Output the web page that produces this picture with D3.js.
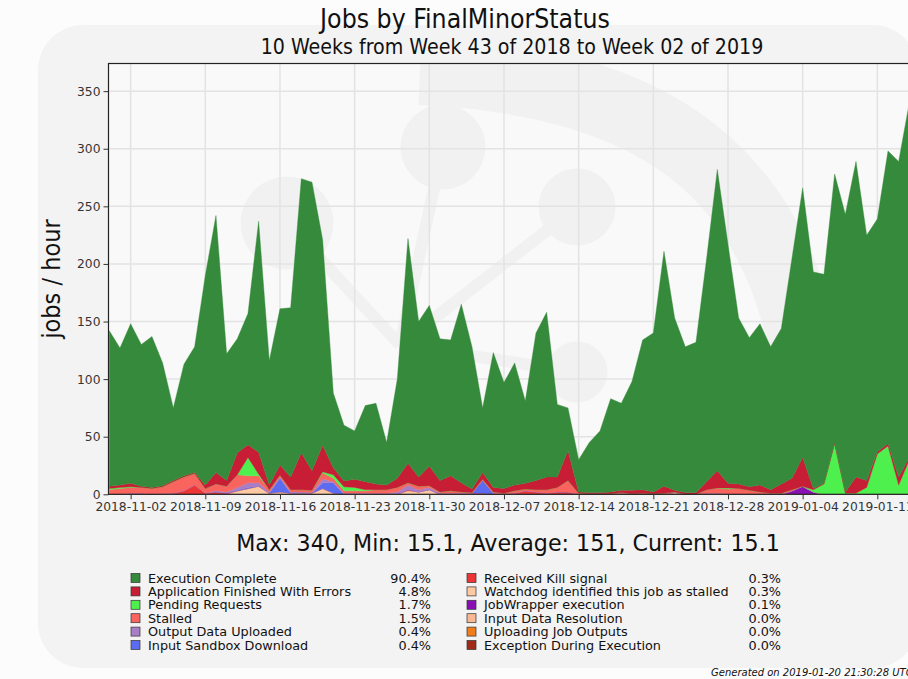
<!DOCTYPE html>
<html>
<head>
<meta charset="utf-8">
<script src="https://cdn.jsdelivr.net/npm/d3@7"></script>
<style>
  body { margin: 0; background: #fff; }
  svg { display: block; font-family: "DejaVu Sans", sans-serif; }
</style>
</head>
<body>
<svg id="chart" width="908" height="679"></svg>
<script>
// daily values, 2018-10-31 .. 2019-01-20 (jobs / hour)
var execComplete = [135,119,138.5,123,131,106.5,63,97,109,182,
  223,110,99,114,200.5,108,135.5,147,238,250.5,
  178.5,65,48.5,42,66,70,37,86,195,135,
  139.5,123,118,155,123.5,56,117,92,106,71.5,
  128,143,63,37,28,43.5,53.5,81,75.5,94.5,
  130,138,204,149.5,126.5,130.5,194,261.5,207.5,144,
  129.5,140,124,135,191,234,188,181.5,233,241,
  274,213,202,254,274,308,302,273,246,227,
  188,14.1];
var appErrors = [2,2,3,1,1,1,1,1,1,3,
  10,5,19,11,19,4,9,11,32,17,
  23,6,5,7,7,5,4,8,17,8,
  17,10,13,8,3,6,4,4,5,5,
  8,11,9,26,1,1,1,1.5,2,3,
  3,1.5,6,1.5,1.5,1.5,7,15,4,4,
  3,6,3,8,10,25,1,0.5,1,1,
  14,6,2,2,7,2,3,5,4,3,
  2,1];
var pendingRequests = [1,1,0.5,0,0,0,0,0,0,0,
  0,0,0,16,1.5,0,0,0,0,0,
  1,3,3.5,3,1,0,0,0,0,0,
  0,0,0,0,0,0,0,0,0,0,
  0,0,0,0,0,0,0,0,0,0,
  0,0,0,0,0,0,0,0,1,0,
  0,0,0,0,0,0,2,9,44,1,
  1,6,35,42,8,30,5,2,0,0,
  0,0];
var stalled = [4,5,5,5,5,6,10,12,10,4,
  6,5,11,6,6,2,1.5,2,2,2,
  5,3,2,2,2,3,3,4,2,3,
  1.5,1,2,1,0.5,1,1,1,2,1.5,
  2,3,4,10,1,0.5,0.5,0.5,0.5,0.5,
  1,0.5,1,0.5,0,0,3,4.5,4.5,5,
  3.5,2,1,1,1,0,0,0,0,0,
  0,0,0,0,0,0,0,0,0,0,
  0,0];
var outputData = [0,0,0,0,0,0,0,0,0,0,
  1,1,2.5,4,3,1,1,1,1,0.5,
  3.5,1,1,1,1,1,1,2,4,2,
  2,1,1,0.5,0,0,0,0,0,0,
  0,0,0,0,0,0,0,0,0,0,
  0,0,0,0,0,0,0,0,0,0,
  0,0,0,0,0,0,0,0,0,0,
  0,0,0,0,0,0,0,0,0,0,
  0,0];
var inputSandbox = [0,0,0,0,0,0,0,0,0,0,
  0,0,0.5,1,0,0,12,0,0,0,
  5,9,0,0,0,0,0,0,0,0,
  0,0,0,0,0,11,1,0,0,0,
  0,0,0,0,0,0,0,0,0,0,
  0,0,0,0,0,0,0,0,0,0,
  0,0,0,0,0,0,0,0,0,0,
  0,0,0,0,0,0,0,0,0,0,
  0,0];
var killSignal = [0,0,1,1,0,0.5,1,3,8,1,
  2,1,0,0,0,0,0,0,0,0,
  0,0,0,0,0,0,0,0,1,0,
  0,0,0,0,0,0,0,0,1,3,
  2,1,2,2,0,0,0,0,0,0,
  0,0,0,0,0,0,0,0,0,0,
  0,0,0,0,0,0,0,0,0,0,
  0,0,0,0,0,0,0,0,0,0,
  0,0];
var watchdog = [0,0,0,0,0,0,0,0,0,0,
  0,0,3,5,7,1,2,1,1,1,
  5,1,0,0,0,0,0,0,3,2,
  4,0,0,0,0,0,0,0,0,0,
  0,0,0,0,0,0,0,0,0,0,
  0,0,0,1.5,0,0,1,1,0,0,
  0,0,0,0,0,0,0,0,0,0,
  0,0,0,0,0,0,0,0,0,0,
  0,0];
var jobWrapper = [0,0,0,0,0,0,0,0,0,0,
  0,0,0,0,0,0,0,0,0,0,
  0,0,0,0,0,0,0,0,0,0,
  0,0,0,0.5,1,1,0,0,0,0,
  0,0,0,0,0,0,0,0,1,0,
  0,0,0,0,0,0,0,0,0,0,
  0,0,0,0,3,7,2,0,0,0,
  0,0,0,0,0,0,0,0,0,0,
  0,0];
var inputDataRes = new Array(82).fill(0);
var uploadingOutputs = new Array(82).fill(0);
var exceptionExec = new Array(82).fill(0);

var names = ['Execution Complete', 'Application Finished With Errors', 'Pending Requests', 'Stalled',
  'Output Data Uploaded', 'Input Sandbox Download', 'Received Kill signal',
  'Watchdog identified this job as stalled', 'JobWrapper execution', 'Input Data Resolution',
  'Uploading Job Outputs', 'Exception During Execution'];
var percents = ['90.4%', '4.8%', '1.7%', '1.5%', '0.4%', '0.4%', '0.3%', '0.3%', '0.1%', '0.0%', '0.0%', '0.0%'];
var colors = ['#358a3b', '#c71e36', '#4ef04e', '#f9645f', '#a87fc6', '#5b6cf0', '#ee3535',
  '#fdc9a2', '#8a10b6', '#f8b893', '#f07c1a', '#a02a18'];
var series = [execComplete, appErrors, pendingRequests, stalled, outputData, inputSandbox,
  killSignal, watchdog, jobWrapper, inputDataRes, uploadingOutputs, exceptionExec];

var xTickLabels = ['2018-11-02', '2018-11-09', '2018-11-16', '2018-11-23', '2018-11-30', '2018-12-07',
  '2018-12-14', '2018-12-21', '2018-12-28', '2019-01-04', '2019-01-11'];
var yTicks = [0, 50, 100, 150, 200, 250, 300, 350];
var statsLine = 'Max: 340, Min: 15.1, Average: 151, Current: 15.1';

var dates = d3.utcDay.range(new Date(Date.UTC(2018, 9, 31)), new Date(Date.UTC(2019, 0, 21)));
var rows = dates.map((d, i) => ({ date: d, values: series.map(s => s[i]) }));

var svg = d3.select('#chart');
var W = 908, H = 679;
var plot = { left: 108.5, top: 63.5, right: 990, bottom: 494.3 };
var condensed = '"DejaVu Sans Condensed", "DejaVu Sans", sans-serif';

// backdrop + faint logo watermark
svg.append('rect').attr('width', W).attr('height', H).attr('fill', '#fcfcfc');
svg.append('rect').attr('x', 38).attr('y', 25).attr('width', 880).attr('height', 643)
  .attr('rx', 45).attr('fill', '#f3f3f3');

var x = d3.scaleUtc()
  .domain([dates[0], dates[dates.length - 1]])
  .range([109.3, 109.3 + 10.667 * (dates.length - 1)]);
var y = d3.scaleLinear().domain([0, 374]).range([plot.bottom, plot.top]);

svg.append('defs').append('clipPath').attr('id', 'clip')
  .append('rect').attr('x', plot.left).attr('y', plot.top)
  .attr('width', plot.right - plot.left).attr('height', plot.bottom - plot.top);

svg.append('rect').attr('x', plot.left).attr('y', plot.top)
  .attr('width', plot.right - plot.left).attr('height', plot.bottom - plot.top)
  .attr('fill', '#f9f9f9');

var wm = svg.append('g').attr('clip-path', 'url(#clip)').attr('fill', '#f1f1f1').attr('stroke', '#f1f1f1');
wm.append('path').attr('fill', 'none').attr('stroke-width', 70)
  .attr('d', 'M420,70 C640,80 760,160 800,330 C830,470 800,560 760,640');
[[287, 223, 46], [443, 147, 42], [577, 207, 38], [577, 372, 30]].forEach(c => {
  wm.append('circle').attr('cx', c[0]).attr('cy', c[1]).attr('r', c[2]);
  wm.append('line').attr('x1', 400).attr('y1', 345).attr('x2', c[0]).attr('y2', c[1]).attr('stroke-width', 12);
});

// grid
var grid = svg.append('g').attr('clip-path', 'url(#clip)').attr('stroke', '#e3e3e3').attr('stroke-width', 1.5);
grid.selectAll('.hy').data(yTicks.slice(1)).enter().append('line')
  .attr('x1', plot.left).attr('x2', plot.right)
  .attr('y1', d => y(d)).attr('y2', d => y(d));
var tickDates = xTickLabels.map(s => d3.utcParse('%Y-%m-%d')(s));
grid.selectAll('.vx').data(tickDates).enter().append('line')
  .attr('y1', plot.top).attr('y2', plot.bottom)
  .attr('x1', d => x(d)).attr('x2', d => x(d));

// stacked areas, last legend entry at the bottom
var stack = d3.stack()
  .keys(d3.range(names.length).reverse())
  .value((row, k) => row.values[k]);
var layers = stack(rows);
var area = d3.area()
  .x(d => x(d.data.date))
  .y0(d => y(d[0]))
  .y1(d => y(d[1]));

svg.append('g').attr('clip-path', 'url(#clip)')
  .selectAll('path').data(layers).enter().append('path')
  .attr('fill', d => colors[d.key])
  .attr('stroke', d => colors[d.key])
  .attr('stroke-width', 0.4)
  .attr('d', area);

// frame
svg.append('rect').attr('x', plot.left).attr('y', plot.top)
  .attr('width', plot.right - plot.left).attr('height', plot.bottom - plot.top)
  .attr('fill', 'none').attr('stroke', '#222').attr('stroke-width', 1.2);

// axes
var yAxis = d3.axisLeft(y).tickValues(yTicks).tickSize(5).tickPadding(3);
var gy = svg.append('g').attr('transform', `translate(${plot.left},0)`).call(yAxis);
gy.select('.domain').remove();
gy.selectAll('text').attr('font-size', 12.3).attr('fill', '#333').attr('font-family', '"DejaVu Sans", sans-serif');
gy.selectAll('line').attr('stroke', '#333');

var xAxis = d3.axisBottom(x).tickValues(tickDates).tickFormat(d3.utcFormat('%Y-%m-%d')).tickSize(5).tickPadding(3);
var gx = svg.append('g').attr('transform', `translate(0,${plot.bottom})`).call(xAxis);
gx.select('.domain').remove();
gx.selectAll('text').attr('font-size', 12.3).attr('fill', '#333').attr('font-family', '"DejaVu Sans", sans-serif');
gx.selectAll('line').attr('stroke', '#333');

// titles
svg.append('text').attr('x', 465).attr('y', 28).attr('text-anchor', 'middle')
  .attr('font-family', condensed).attr('font-size', 26.4)
  .attr('fill', '#111').text('Jobs by FinalMinorStatus');
svg.append('text').attr('x', 512).attr('y', 54).attr('text-anchor', 'middle')
  .attr('font-family', condensed).attr('font-size', 21.2)
  .attr('fill', '#111').text('10 Weeks from Week 43 of 2018 to Week 02 of 2019');
svg.append('text').attr('transform', 'translate(60,279) rotate(-90)').attr('text-anchor', 'middle')
  .attr('font-family', condensed).attr('font-size', 25)
  .attr('fill', '#111').text('jobs / hour');

svg.append('text').attr('x', 508).attr('y', 551).attr('text-anchor', 'middle')
  .attr('font-size', 22.2).attr('fill', '#111').text(statsLine);

// legend in two columns of six
var legend = svg.append('g').attr('font-size', 12.8).attr('fill', '#111');
names.forEach((n, i) => {
  var col = Math.floor(i / 6), row = i % 6;
  var lx = col === 0 ? 131 : 467;
  var pctX = col === 0 ? 431 : 781;
  var ly = 578 + row * 13.4;
  legend.append('rect').attr('x', lx).attr('y', ly - 4.5).attr('width', 9).attr('height', 9)
    .attr('fill', colors[i]).attr('stroke', '#333').attr('stroke-width', 0.7);
  legend.append('text').attr('x', lx + 17).attr('y', ly + 4.5).text(n);
  legend.append('text').attr('x', pctX).attr('y', ly + 4.5).attr('text-anchor', 'end').text(percents[i]);
});

svg.append('text').attr('x', 711).attr('y', 676).attr('font-size', 10).attr('font-style', 'italic')
  .attr('fill', '#111').text('Generated on 2019-01-20 21:30:28 UTC');
</script>
</body>
</html>
